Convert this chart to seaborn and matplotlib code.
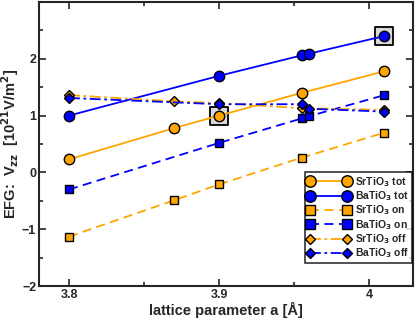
import matplotlib
matplotlib.use("Agg")
import matplotlib.pyplot as plt
import seaborn as sns
import pandas as pd
from matplotlib.ticker import MultipleLocator

# lattice parameters
a_sr = [3.80, 3.87, 3.90, 3.955, 4.01]
a_ba = [3.80, 3.90, 3.955, 3.96, 4.01]

# EFG values [10^21 V/m^2]
sr_tot = [0.23, 0.78, 1.00, 1.40, 1.78]
ba_tot = [1.00, 1.70, 2.06, 2.09, 2.40]
sr_on = [-1.13, -0.49, -0.21, 0.26, 0.70]
ba_on = [-0.30, 0.52, 0.95, 0.99, 1.36]
sr_off = [1.36, 1.25, 1.22, 1.13, 1.10]
ba_off = [1.31, 1.20, 1.20, 1.12, 1.07]

# highlighted points (experimental lattice constants)
hl_a = [3.90, 4.01]
hl_v = [1.00, 2.40]

orange = "#FFA500"
blue = "#0000FF"

series = [
    ("SrTiO$_3$ tot", a_sr, sr_tot, orange, "o", "-", 7.5),
    ("BaTiO$_3$ tot", a_ba, ba_tot, blue, "o", "-", 7.5),
    ("SrTiO$_3$ on", a_sr, sr_on, orange, "s", (0, (5, 3)), 6),
    ("BaTiO$_3$ on", a_ba, ba_on, blue, "s", (0, (5, 3)), 6),
    ("SrTiO$_3$ off", a_sr, sr_off, orange, "D", (0, (6, 2, 1.5, 2)), 5),
    ("BaTiO$_3$ off", a_ba, ba_off, blue, "D", (0, (6, 2, 1.5, 2)), 5),
]

sns.set_style("ticks")
plt.rcParams["font.family"] = ["Liberation Sans", "DejaVu Sans"]
plt.rcParams["font.weight"] = "bold"

fig = plt.figure(figsize=(4.15, 3.2), dpi=100)
ax = fig.add_axes([0.094, 0.106, 0.901, 0.888])

hl = pd.DataFrame({"a": hl_a, "v": hl_v})
sns.scatterplot(data=hl, x="a", y="v", marker="s", s=150, color="#d8d8d8",
                edgecolor="black", linewidth=1.3, ax=ax, zorder=1, legend=False)

for label, xs, ys, col, mk, ls, ms in series:
    df = pd.DataFrame({"a": xs, "v": ys})
    sns.lineplot(data=df, x="a", y="v", color=col, marker=mk, markersize=ms,
                 markeredgecolor="black", markeredgewidth=1.0, linestyle=ls,
                 linewidth=1.3, label=label, ax=ax, zorder=3)

ax.set_xlim(3.78, 4.029)
ax.set_ylim(-2, 3)
ax.set_xticks([3.8, 3.9, 4.0])
ax.set_xticklabels(["3.8", "3.9", "4"])
ax.set_yticks([-2, -1, 0, 1, 2])
ax.xaxis.set_minor_locator(MultipleLocator(0.05))
ax.yaxis.set_minor_locator(MultipleLocator(0.5))
ax.tick_params(which="both", direction="in", top=True, right=True,
               labelsize=9, width=1.2, pad=2)
ax.tick_params(which="major", length=5)
ax.tick_params(which="minor", length=3)
for lbl in ax.get_xticklabels() + ax.get_yticklabels():
    lbl.set_fontweight("bold")
for sp in ax.spines.values():
    sp.set_linewidth(1.5)
    sp.set_visible(True)

ax.set_xlabel("lattice parameter a [Å]", fontsize=10.5, fontweight="bold", labelpad=1)
ax.set_ylabel("EFG:  V$_{\\mathbf{zz}}$  [10$^{\\mathbf{21}}$V/m$^{\\mathbf{2}}$]",
              fontsize=10.5, fontweight="bold", labelpad=1)

leg = ax.legend(loc="lower right", bbox_to_anchor=(0.997, 0.081), numpoints=2,
                handlelength=4.1, fontsize=7.5, frameon=True, fancybox=False,
                edgecolor="black", borderpad=0.25, labelspacing=0.05,
                handletextpad=0.5, borderaxespad=0, markerscale=1.1)
leg.get_frame().set_linewidth(1.2)
for t in leg.get_texts():
    t.set_fontweight("bold")

fig.savefig("out.png", dpi=100)
